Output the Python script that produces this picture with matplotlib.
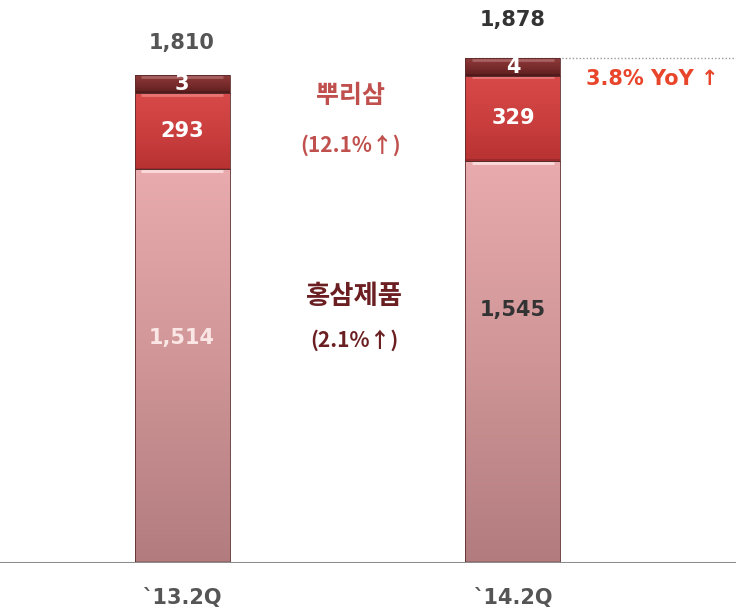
import numpy as np
import matplotlib.pyplot as plt
from matplotlib.colors import LinearSegmentedColormap

plt.rcParams['font.family'] = ['DejaVu Sans', 'Noto Sans CJK KR']

# data
quarters = ["`13.2Q", "`14.2Q"]
red_ginseng = [1514, 1545]    # 홍삼제품
root_ginseng = [293, 329]     # 뿌리삼
others = [3, 4]
totals = [1810, 1878]

MIN_SEG = 68  # keep the tiny top segment visible

fig = plt.figure(figsize=(7.36, 6.14), dpi=100)
ax = fig.add_axes([0, 0.083, 1, 0.917])
ax.set_xlim(-0.55, 1.674)
ax.set_ylim(0, 2165)
ax.axis("off")

x = np.arange(len(quarters))
w = 0.287

pink = LinearSegmentedColormap.from_list("pink", ["#b27c7e", "#cf9597", "#e9abad"])
red = LinearSegmentedColormap.from_list("red", ["#b83232", "#cc3f3f", "#d84a4a"])
dark = LinearSegmentedColormap.from_list("dark", ["#5e1e1e", "#7a2c2c", "#8e3a3a"])


def grad_bar(xc, bottom, height, cmap, hl):
    bars = ax.bar(xc, height, w, bottom=bottom, color="none",
                  edgecolor="#5a2a2a", linewidth=0.6, zorder=3)
    rect = bars[0]
    g = np.linspace(0, 1, 256).reshape(-1, 1)
    im = ax.imshow(g, cmap=cmap, aspect="auto", origin="lower",
                   extent=[xc - w / 2, xc + w / 2, bottom, bottom + height], zorder=2)
    im.set_clip_path(rect)
    # bevel highlight along the top edge
    top = bottom + height
    ax.plot([xc - w / 2 + 0.02, xc + w / 2 - 0.02], [top - 6, top - 6],
            color=hl, lw=2, alpha=0.8, zorder=2.6, solid_capstyle="butt")
    ax.plot([xc - w / 2, xc + w / 2], [bottom + 3, bottom + 3],
            color="#000000", lw=1.2, alpha=0.18, zorder=2.6, solid_capstyle="butt")


for i in range(len(quarters)):
    b0 = red_ginseng[i]
    b1 = root_ginseng[i]
    b2 = max(others[i], MIN_SEG)
    grad_bar(x[i], 0, b0, pink, "#ffe8e8")
    grad_bar(x[i], b0, b1, red, "#ee8080")
    grad_bar(x[i], b0 + b1, b2, dark, "#b06a6a")

# baseline
ax.axhline(0, color="#8c8c8c", lw=1.5, zorder=4)

# value labels
ax.text(x[0], red_ginseng[0] / 2 + 110, f"{red_ginseng[0]:,}", ha="center", va="center",
        color="#fbe6e6", fontsize=15, fontweight="bold", zorder=5)
ax.text(x[1], red_ginseng[1] / 2 + 200, f"{red_ginseng[1]:,}", ha="center", va="center",
        color="#333333", fontsize=15, fontweight="bold", zorder=5)
for i in range(len(quarters)):
    ax.text(x[i], red_ginseng[i] + root_ginseng[i] / 2, f"{root_ginseng[i]:,}", ha="center",
            va="center", color="white", fontsize=15, fontweight="bold", zorder=5)
    ax.text(x[i], red_ginseng[i] + root_ginseng[i] + MIN_SEG / 2, f"{others[i]}",
            ha="center", va="center", color="white", fontsize=15, fontweight="bold", zorder=5)
ax.text(x[0], 2000, f"{totals[0]:,}", ha="center", va="center",
        color="#555555", fontsize=15, fontweight="bold")
ax.text(x[1], 2088, f"{totals[1]:,}", ha="center", va="center",
        color="#333333", fontsize=15, fontweight="bold")

# category annotations
kr = ['Noto Sans CJK KR', 'DejaVu Sans']
ax.text(0.51, 1795, "뿌리삼", ha="center", va="center", color="#c0504d",
        fontsize=18, fontweight="bold", family=kr)
ax.text(0.51, 1607, "(12.1%↑)", ha="center", va="center", color="#c0504d",
        fontsize=15, fontweight="bold", family=kr)
ax.text(0.52, 1023, "홍삼제품", ha="center", va="center", color="#6b1f22",
        fontsize=19, fontweight="bold", family=kr)
ax.text(0.52, 858, "(2.1%↑)", ha="center", va="center", color="#6b1f22",
        fontsize=15, fontweight="bold", family=kr)

# YoY
top2 = red_ginseng[1] + root_ginseng[1] + MIN_SEG
ax.plot([x[1] - w / 2 + 0.03, 1.674], [top2, top2], color="#999999", lw=1,
        ls=(0, (1, 1.5)), zorder=1)
ax.text(1.42, 1861, "3.8% YoY ↑", ha="center", va="center", color="#e8452a",
        fontsize=15, fontweight="bold")

# x labels
for i, q in enumerate(quarters):
    ax.text(x[i], -135, q, ha="center", va="center", color="#555555",
            fontsize=15, fontweight="bold")

fig.savefig("out.png", dpi=100)
